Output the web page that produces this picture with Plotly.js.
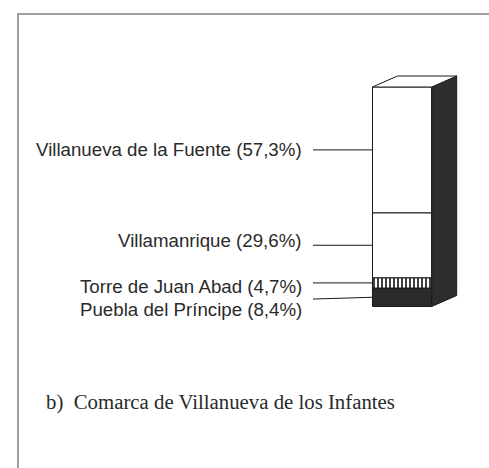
<!DOCTYPE html>
<html>
<head>
<meta charset="utf-8">
<script src="https://cdn.plot.ly/plotly-3.0.1.min.js"></script>
<style>html,body{margin:0;padding:0;background:#fff;}#chart{width:489px;height:468px;}</style>
</head>
<body>
<div id="chart"></div>
<script>
// Data (stacked bottom to top)
const municipios = ["Puebla del Príncipe", "Torre de Juan Abad", "Villamanrique", "Villanueva de la Fuente"];
const porcentajes = [8.4, 4.7, 29.6, 57.3];
const etiquetas = ["8,4%", "4,7%", "29,6%", "57,3%"];
const caption = "b)  Comarca de Villanueva de los Infantes";

// Styling
const fills = ["#2b2b2b", "#ffffff", "#ffffff", "#ffffff"];
const labelShift = [-12, -4, 5, 0];     // px offset of the text relative to its leader line
const leftDrop = [-0.8, 0, 0, 0];       // leader line slant at its left end
const depthX = 0.422, depthY = 5.0;      // 3D depth of the bar
const labelFont = {family: "Liberation Sans, Arial, sans-serif", size: 18.7, color: "#2a2a2a"};

const traces = [];
let cum = 0;
const mids = [];
porcentajes.forEach((v, i) => {
  const tr = {
    type: "bar", x: [0], y: [v], width: 1, base: [cum],
    marker: {color: fills[i], line: {color: "#1a1a1a", width: 1}},
    hoverinfo: "skip", showlegend: false
  };
  if (i === 1) {
    tr.marker.pattern = {shape: "|", fgcolor: "#111", bgcolor: "#ffffff", size: 4, solidity: 0.4};
  }
  traces.push(tr);
  mids.push(cum + v / 2);
  cum += v;
});
const total = cum;

// side face
traces.push({
  type: "scatter", mode: "lines", fill: "toself",
  x: [0.5, 0.5 + depthX, 0.5 + depthX, 0.5, 0.5],
  y: [0, depthY, total + depthY, total, 0],
  fillcolor: "#2e2e2e", line: {color: "#1a1a1a", width: 1},
  hoverinfo: "skip", showlegend: false
});
// top face
traces.push({
  type: "scatter", mode: "lines", fill: "toself",
  x: [-0.5, -0.5 + depthX, 0.5 + depthX, 0.5, -0.5],
  y: [total, total + depthY, total + depthY, total, total],
  fillcolor: "#ffffff", line: {color: "#1a1a1a", width: 1},
  hoverinfo: "skip", showlegend: false
});

// leader lines
const xLineStart = -1.505, xLabel = -1.66;
mids.forEach((m, i) => {
  traces.push({
    type: "scatter", mode: "lines",
    x: [xLineStart, -0.5], y: [m + leftDrop[i], m],
    line: {color: "#1a1a1a", width: 1},
    hoverinfo: "skip", showlegend: false
  });
});

const annotations = municipios.map((name, i) => ({
  x: xLabel, y: mids[i], xref: "x", yref: "y",
  text: name + " (" + etiquetas[i] + ")",
  xanchor: "right", yanchor: "middle", showarrow: false,
  yshift: labelShift[i], font: labelFont
}));
annotations.push({
  x: 44 / 489, y: 1 - 402 / 468, xref: "paper", yref: "paper",
  text: caption, xanchor: "left", yanchor: "middle", showarrow: false,
  font: {family: "Liberation Serif, Times New Roman, serif", size: 20.8, color: "#2a2a2a"}
});

const layout = {
  width: 489, height: 468,
  margin: {l: 0, r: 0, t: 0, b: 0},
  paper_bgcolor: "#ffffff", plot_bgcolor: "#ffffff",
  barmode: "overlay",
  xaxis: {range: [-6.792, 1.468], visible: false, fixedrange: true},
  yaxis: {range: [-73.58, 139.64], visible: false, fixedrange: true},
  showlegend: false,
  annotations: annotations,
  shapes: [{
    type: "path", xref: "paper", yref: "paper",
    path: "M " + (18 / 489) + " 0 L " + (18 / 489) + " " + (1 - 14 / 468) + " L 1 " + (1 - 14 / 468),
    line: {color: "#808080", width: 1.5}
  }]
};

Plotly.newPlot("chart", traces, layout, {displayModeBar: false, staticPlot: true});
</script>
</body>
</html>
